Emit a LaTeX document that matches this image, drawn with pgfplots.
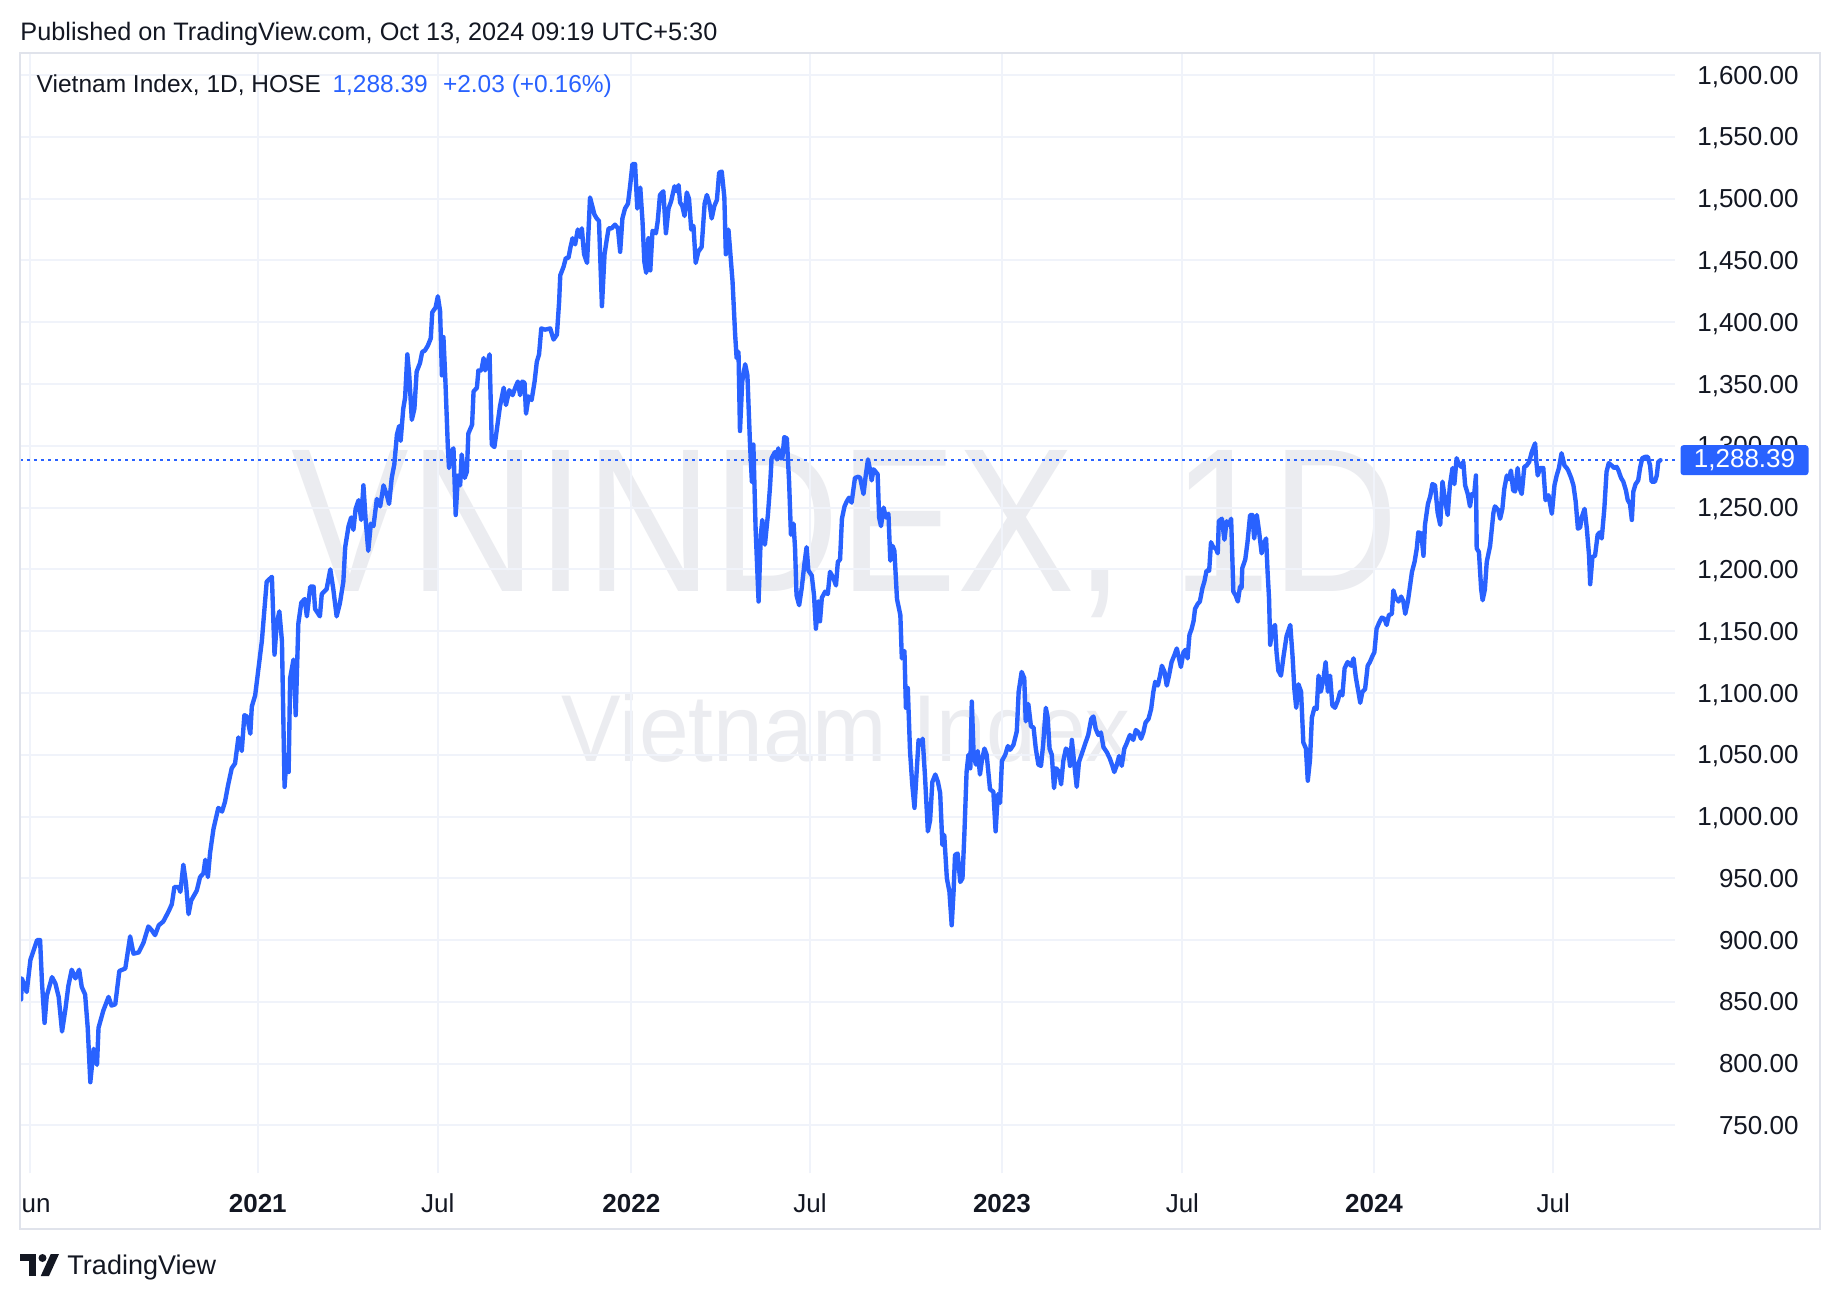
\documentclass[border=0pt]{standalone}
\usepackage{fontspec}
\setmainfont{Liberation Sans}
\usepackage{graphicx}
\usepackage{pgfplots}
\pgfplotsset{compat=1.18}
\usepackage{pgfplotstable}
\definecolor{tvblue}{HTML}{2962FF}
\definecolor{tvtext}{HTML}{131722}
\definecolor{tvgrid}{HTML}{F0F3FA}
\definecolor{tvframe}{HTML}{E0E3EB}
\definecolor{tvwm}{HTML}{EBECF0}

\pgfplotstableread{
t v
2020.364 852
2020.366 869
2020.379 858
2020.389 884
2020.407 900
2020.415 900
2020.420 866
2020.427 833
2020.433 855
2020.447 870
2020.456 865
2020.465 854
2020.474 826
2020.483 844
2020.491 863
2020.500 876
2020.510 869
2020.520 876
2020.527 862
2020.536 856
2020.543 829
2020.550 785
2020.559 812
2020.568 799
2020.572 829
2020.585 843
2020.599 854
2020.607 847
2020.617 848
2020.628 875
2020.644 877
2020.657 903
2020.666 889
2020.680 890
2020.693 898
2020.706 911
2020.715 908
2020.724 904
2020.734 912
2020.746 915
2020.760 923
2020.769 929
2020.776 943
2020.787 943
2020.792 939
2020.800 961
2020.807 946
2020.814 921
2020.821 932
2020.836 940
2020.845 951
2020.854 954
2020.859 965
2020.866 951
2020.872 971
2020.881 990
2020.894 1007
2020.904 1004
2020.912 1012
2020.920 1025
2020.930 1039
2020.939 1043
2020.948 1064
2020.957 1053
2020.964 1082
2020.971 1081
2020.980 1067
2020.984 1089
2020.993 1098
2021.002 1120
2021.011 1142
2021.018 1168
2021.024 1190
2021.038 1194
2021.045 1131
2021.051 1156
2021.058 1166
2021.065 1142
2021.072 1024
2021.078 1050
2021.083 1036
2021.087 1112
2021.096 1127
2021.102 1082
2021.109 1156
2021.117 1173
2021.126 1176
2021.132 1162
2021.141 1186
2021.150 1186
2021.154 1168
2021.167 1162
2021.172 1180
2021.185 1184
2021.195 1200
2021.203 1184
2021.212 1162
2021.221 1173
2021.230 1190
2021.235 1218
2021.244 1235
2021.251 1242
2021.257 1232
2021.263 1249
2021.271 1256
2021.278 1240
2021.284 1268
2021.290 1240
2021.297 1215
2021.304 1237
2021.311 1235
2021.320 1257
2021.329 1251
2021.338 1268
2021.347 1260
2021.353 1253
2021.360 1274
2021.367 1285
2021.374 1309
2021.380 1316
2021.384 1304
2021.391 1330
2021.396 1339
2021.402 1374
2021.407 1358
2021.414 1321
2021.421 1330
2021.427 1360
2021.436 1367
2021.442 1376
2021.449 1377
2021.457 1381
2021.465 1387
2021.469 1408
2021.478 1412
2021.484 1421
2021.490 1409
2021.495 1357
2021.499 1388
2021.504 1355
2021.511 1298
2021.514 1282
2021.520 1295
2021.526 1298
2021.532 1244
2021.538 1276
2021.544 1268
2021.548 1293
2021.556 1274
2021.562 1279
2021.566 1310
2021.576 1317
2021.580 1344
2021.589 1347
2021.593 1361
2021.601 1361
2021.607 1371
2021.611 1361
2021.618 1368
2021.623 1374
2021.629 1301
2021.636 1299
2021.642 1312
2021.651 1332
2021.661 1347
2021.667 1333
2021.676 1345
2021.685 1341
2021.692 1347
2021.699 1352
2021.705 1341
2021.711 1352
2021.717 1351
2021.721 1326
2021.728 1340
2021.736 1337
2021.744 1352
2021.750 1368
2021.756 1374
2021.762 1395
2021.772 1394
2021.786 1395
2021.795 1386
2021.804 1390
2021.810 1417
2021.813 1438
2021.822 1445
2021.828 1452
2021.835 1452
2021.840 1460
2021.846 1468
2021.853 1463
2021.860 1475
2021.866 1469
2021.871 1476
2021.877 1455
2021.885 1448
2021.893 1501
2021.905 1487
2021.911 1484
2021.917 1482
2021.925 1413
2021.932 1455
2021.938 1467
2021.943 1476
2021.951 1476
2021.960 1479
2021.968 1476
2021.974 1457
2021.980 1484
2021.987 1492
2021.995 1496
2022.001 1511
2022.007 1528
2022.014 1528
2022.020 1492
2022.028 1509
2022.034 1482
2022.039 1449
2022.044 1440
2022.050 1468
2022.055 1442
2022.061 1474
2022.070 1472
2022.075 1482
2022.081 1503
2022.090 1506
2022.097 1472
2022.104 1492
2022.111 1498
2022.120 1510
2022.126 1506
2022.131 1511
2022.135 1497
2022.141 1494
2022.147 1486
2022.153 1505
2022.159 1500
2022.165 1475
2022.171 1478
2022.177 1448
2022.184 1457
2022.193 1461
2022.201 1496
2022.207 1503
2022.214 1496
2022.220 1484
2022.227 1494
2022.234 1499
2022.240 1521
2022.247 1522
2022.254 1501
2022.258 1455
2022.265 1475
2022.269 1460
2022.276 1433
2022.283 1390
2022.287 1371
2022.292 1376
2022.296 1312
2022.302 1352
2022.310 1366
2022.316 1357
2022.323 1301
2022.328 1271
2022.332 1301
2022.338 1233
2022.346 1174
2022.352 1228
2022.356 1240
2022.363 1220
2022.371 1244
2022.377 1268
2022.381 1290
2022.390 1295
2022.395 1289
2022.399 1298
2022.404 1290
2022.410 1290
2022.415 1307
2022.422 1306
2022.428 1271
2022.433 1228
2022.440 1237
2022.444 1217
2022.448 1179
2022.455 1171
2022.462 1185
2022.469 1204
2022.475 1218
2022.480 1199
2022.489 1195
2022.495 1179
2022.500 1152
2022.507 1174
2022.511 1158
2022.516 1177
2022.525 1182
2022.532 1180
2022.538 1198
2022.547 1193
2022.554 1187
2022.559 1206
2022.565 1208
2022.570 1241
2022.577 1251
2022.583 1255
2022.589 1258
2022.596 1254
2022.605 1274
2022.614 1275
2022.619 1274
2022.628 1261
2022.634 1276
2022.640 1289
2022.646 1280
2022.650 1272
2022.655 1281
2022.666 1277
2022.670 1242
2022.675 1235
2022.682 1250
2022.688 1242
2022.695 1245
2022.700 1207
2022.706 1219
2022.711 1215
2022.718 1176
2022.727 1163
2022.731 1128
2022.738 1134
2022.742 1088
2022.747 1104
2022.753 1053
2022.759 1026
2022.765 1007
2022.771 1037
2022.776 1062
2022.783 1058
2022.787 1063
2022.793 1034
2022.801 988
2022.807 997
2022.813 1028
2022.821 1034
2022.828 1028
2022.834 1019
2022.840 977
2022.845 985
2022.852 950
2022.859 939
2022.865 912
2022.870 939
2022.874 969
2022.881 970
2022.888 947
2022.894 950
2022.899 985
2022.905 1036
2022.910 1050
2022.915 1039
2022.919 1093
2022.924 1050
2022.930 1042
2022.935 1053
2022.941 1034
2022.946 1045
2022.953 1055
2022.959 1050
2022.968 1022
2022.977 1020
2022.983 988
2022.989 1018
2022.995 1011
2023.000 1045
2023.009 1050
2023.016 1057
2023.022 1054
2023.031 1058
2023.040 1069
2023.045 1101
2023.049 1109
2023.053 1117
2023.060 1112
2023.064 1077
2023.071 1091
2023.078 1073
2023.085 1072
2023.091 1055
2023.098 1042
2023.105 1041
2023.111 1059
2023.118 1088
2023.123 1080
2023.128 1055
2023.134 1050
2023.140 1023
2023.146 1039
2023.154 1036
2023.159 1026
2023.165 1045
2023.172 1055
2023.179 1053
2023.183 1041
2023.188 1062
2023.195 1041
2023.201 1024
2023.207 1044
2023.216 1052
2023.225 1060
2023.232 1066
2023.240 1079
2023.246 1081
2023.252 1071
2023.259 1066
2023.266 1068
2023.273 1056
2023.282 1052
2023.290 1047
2023.297 1041
2023.302 1036
2023.308 1041
2023.315 1049
2023.322 1041
2023.329 1055
2023.335 1059
2023.344 1066
2023.353 1062
2023.360 1070
2023.367 1068
2023.374 1063
2023.380 1068
2023.386 1076
2023.394 1079
2023.401 1087
2023.407 1101
2023.412 1109
2023.419 1106
2023.425 1114
2023.430 1122
2023.437 1117
2023.443 1106
2023.449 1114
2023.456 1125
2023.464 1131
2023.470 1136
2023.476 1128
2023.481 1121
2023.488 1133
2023.494 1135
2023.499 1128
2023.504 1147
2023.510 1152
2023.515 1158
2023.519 1168
2023.526 1172
2023.532 1174
2023.539 1185
2023.544 1190
2023.550 1199
2023.557 1199
2023.562 1222
2023.568 1218
2023.575 1217
2023.580 1213
2023.583 1239
2023.591 1241
2023.598 1224
2023.604 1239
2023.610 1236
2023.616 1241
2023.622 1182
2023.628 1179
2023.634 1174
2023.640 1186
2023.644 1185
2023.646 1201
2023.654 1208
2023.660 1222
2023.667 1244
2023.673 1244
2023.678 1225
2023.685 1244
2023.691 1231
2023.698 1213
2023.704 1221
2023.710 1225
2023.714 1198
2023.718 1176
2023.721 1139
2023.727 1152
2023.734 1155
2023.738 1133
2023.743 1118
2023.750 1114
2023.757 1130
2023.765 1146
2023.775 1155
2023.781 1130
2023.786 1103
2023.791 1088
2023.797 1107
2023.804 1101
2023.810 1060
2023.817 1055
2023.822 1029
2023.828 1046
2023.833 1080
2023.840 1088
2023.846 1087
2023.851 1114
2023.857 1101
2023.864 1111
2023.870 1125
2023.876 1101
2023.882 1114
2023.888 1090
2023.895 1088
2023.903 1094
2023.909 1101
2023.915 1098
2023.921 1120
2023.929 1125
2023.939 1122
2023.945 1128
2023.951 1113
2023.958 1101
2023.963 1092
2023.969 1101
2023.976 1103
2023.983 1122
2023.989 1125
2023.996 1130
2024.001 1133
2024.007 1152
2024.014 1157
2024.021 1161
2024.028 1160
2024.034 1155
2024.040 1163
2024.048 1164
2024.052 1183
2024.058 1177
2024.066 1174
2024.073 1178
2024.079 1174
2024.084 1164
2024.091 1174
2024.097 1187
2024.102 1198
2024.109 1206
2024.115 1217
2024.119 1230
2024.127 1229
2024.133 1211
2024.137 1236
2024.145 1253
2024.151 1259
2024.157 1269
2024.164 1268
2024.171 1246
2024.178 1236
2024.184 1271
2024.191 1256
2024.198 1244
2024.204 1268
2024.211 1282
2024.216 1269
2024.222 1290
2024.227 1286
2024.234 1283
2024.240 1287
2024.245 1268
2024.252 1261
2024.258 1251
2024.263 1261
2024.269 1260
2024.274 1276
2024.276 1217
2024.282 1214
2024.288 1184
2024.292 1175
2024.298 1184
2024.303 1206
2024.312 1219
2024.321 1246
2024.325 1251
2024.334 1248
2024.339 1241
2024.345 1249
2024.350 1265
2024.357 1276
2024.363 1273
2024.368 1280
2024.374 1264
2024.379 1263
2024.386 1282
2024.392 1265
2024.397 1261
2024.404 1283
2024.410 1284
2024.417 1287
2024.424 1295
2024.433 1302
2024.436 1288
2024.440 1276
2024.446 1282
2024.455 1282
2024.461 1256
2024.469 1260
2024.478 1245
2024.485 1268
2024.491 1276
2024.497 1282
2024.504 1294
2024.512 1284
2024.518 1282
2024.522 1280
2024.530 1274
2024.536 1268
2024.542 1255
2024.548 1233
2024.554 1234
2024.558 1242
2024.566 1249
2024.572 1233
2024.578 1211
2024.581 1188
2024.587 1210
2024.594 1211
2024.601 1228
2024.607 1230
2024.612 1225
2024.619 1249
2024.625 1279
2024.631 1286
2024.639 1284
2024.646 1282
2024.652 1283
2024.657 1280
2024.664 1274
2024.670 1271
2024.677 1264
2024.682 1256
2024.688 1253
2024.693 1240
2024.697 1263
2024.703 1269
2024.710 1272
2024.715 1282
2024.721 1290
2024.728 1291
2024.736 1291
2024.742 1284
2024.746 1271
2024.755 1271
2024.760 1276
2024.764 1287
2024.770 1288.39
}\vnindex

\begin{document}
\begin{tikzpicture}
\useasboundingbox (0,0) rectangle (736pt,520pt);
\fill[white] (0,0) rectangle (736pt,520pt);
% watermark
\node[text=tvwm, inner sep=0pt, font=\fontsize{82}{82}\selectfont] at (338pt,306.4pt) {\scalebox{0.86}[1]{VNINDEX, 1D}};
\node[text=tvwm, inner sep=0pt, font=\fontsize{38}{38}\selectfont] at (338.4pt,229pt) {\scalebox{0.94}[1]{Vietnam Index}};
\begin{axis}[
  at={(8pt,50.8pt)}, anchor=south west, scale only axis,
  width=662pt, height=448pt,
  xmin=2020.361, xmax=2024.809, ymin=711.5, ymax=1617.9,
  axis line style={draw=none}, tick style={draw=none},
  major tick length=0pt,
  xtick={2020.387,2021,2021.484,2022.004,2022.484,2023,2023.485,2024,2024.482},
  xticklabels={Jun,\textbf{2021},Jul,\textbf{2022},Jul,\textbf{2023},Jul,\textbf{2024},Jul},
  ytick={750,800,...,1600},
  yticklabels={750.00,800.00,850.00,900.00,950.00,{1,000.00},{1,050.00},{1,100.00},{1,150.00},{1,200.00},{1,250.00},{1,300.00},{1,350.00},{1,400.00},{1,450.00},{1,500.00},{1,550.00},{1,600.00}},
  yticklabel pos=right,
  grid=major, major grid style={tvgrid, line width=0.8pt},
  ticklabel style={font=\fontsize{10.4}{12}\selectfont, text=tvtext},
  yticklabel style={anchor=east, xshift=49.6pt, inner sep=0pt, text depth=0pt},
  xticklabel style={anchor=base, yshift=-15.7pt, inner sep=0pt},
  clip=false,
]
\addplot[tvblue, line width=0.8pt, dash pattern=on 1.2pt off 1.6pt, forget plot] coordinates {(2020.361,1288.39) (2024.809,1288.39)};
\addplot[tvblue, line width=1.75pt, line join=round, line cap=round, mark=none] table[x=t,y=v]{\vnindex};
\coordinate (pl) at (axis cs:2024.809,1288.39);
\end{axis}
% price tag
\node[fill=tvblue, text=white, rounded corners=1.2pt, minimum width=51.2pt, minimum height=12pt, inner sep=0pt, anchor=west, font=\fontsize{10.4}{12}\selectfont] at ([xshift=2pt]pl) {1,288.39};
% mask left of frame and frame
\fill[white] (0,0) rectangle (8pt,520pt);
\draw[tvframe, line width=0.8pt] (8pt,28.4pt) rectangle (728pt,498.8pt);
% header
\node[anchor=base west, inner sep=0pt, text=tvtext, font=\fontsize{10.1}{12}\selectfont] at (8pt,503.6pt) {Published on TradingView.com, Oct 13, 2024 09:19 UTC+5:30};
\node[anchor=base west, inner sep=0pt, text=tvtext, font=\fontsize{9.8}{12}\selectfont] at (14.5pt,482.9pt) {Vietnam Index, 1D, HOSE};
\node[anchor=base west, inner sep=0pt, text=tvblue, font=\fontsize{9.8}{12}\selectfont] at (132.8pt,482.9pt) {1,288.39};
\node[anchor=base west, inner sep=0pt, text=tvblue, font=\fontsize{9.8}{12}\selectfont] at (177pt,482.9pt) {+2.03 (+0.16\%)};
% logo
\begin{scope}[shift={(8pt,9.6pt)}, x=1pt, y=1pt]
\fill[tvtext] (0,6) rectangle (6.5,8.8);
\fill[tvtext] (3.4,0) rectangle (6.5,8.8);
\fill[tvtext] (9,7.2) circle (1.6);
\fill[tvtext] (12.3,8.8) -- (15.6,8.8) -- (11.6,0) -- (8.3,0) -- cycle;
\end{scope}
\node[anchor=base west, inner sep=0pt, text=tvtext, font=\fontsize{10.8}{13}\selectfont] at (26.8pt,10.2pt) {TradingView};
\end{tikzpicture}
\end{document}
